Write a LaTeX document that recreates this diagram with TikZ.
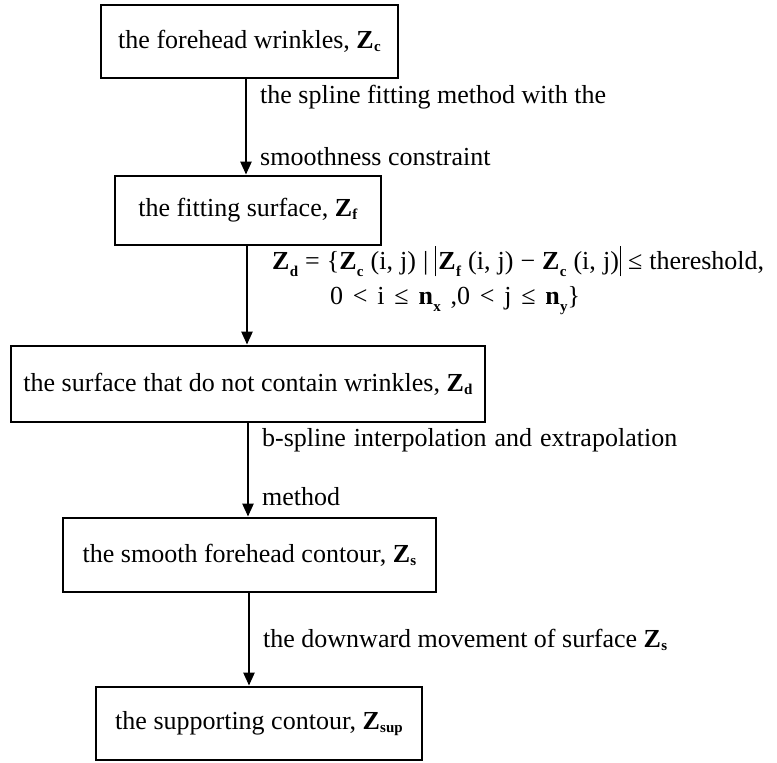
\documentclass[tikz,border=0pt]{standalone}
\usepackage{fontspec}
\setmainfont{Liberation Serif}
\usetikzlibrary{arrows.meta}
\newcommand\Zb[1]{\textbf{Z}\kern0.3pt\raisebox{-0.12em}{\fontsize{15}{15}\selectfont\textbf{#1}}}
\newcommand\Zm[1]{\textbf{Z}\kern0.3pt\raisebox{-0.3em}{\fontsize{15}{15}\selectfont\textbf{#1}}}
\newcommand\nsub[1]{\textbf{n}\kern0.3pt\raisebox{-0.3em}{\fontsize{15}{15}\selectfont\textbf{#1}}}
\newcommand\absbar{\rule[-0.28em]{1.2pt}{1.18em}}
\begin{document}
\begin{tikzpicture}[x=1pt,y=-1pt,
  box/.style={draw, line width=2.8pt, minimum width=#1, minimum height=74pt, inner sep=0pt,
    font=\fontsize{26}{30}\selectfont},
  flow/.style={line width=2.4pt, -{Triangle[length=13pt,width=11pt]}},
  lbl/.style={anchor=base west, inner sep=0pt, font=\fontsize{26}{30}\selectfont}]
\useasboundingbox (0,0) rectangle (777,763);
% boxes
\node[box=297, minimum height=73pt] (b1) at (249.5,41.5) {the forehead wrinkles, \Zb{c}};
\node[box=266, minimum height=69pt] (b2) at (248,210.5) {the fitting surface, \Zb{f}};
\node[box=474, minimum height=76pt] (b3) at (248,384) {the surface that do not contain wrinkles, \Zb{d}};
\node[box=373] (b4) at (249.5,555) {the smooth forehead contour, \Zb{s}};
\node[box=326, minimum height=73pt] (b5) at (259,723.5) {the supporting contour, \Zb{sup}};
% arrow columns
\coordinate (a1) at (246,0);
\coordinate (a2) at (247,0);
\coordinate (a3) at (248,0);
\coordinate (a4) at (249,0);
\draw[flow] (b1.south -| a1) -- (b2.north -| a1);
\draw[flow] (b2.south -| a2) -- (b3.north -| a2);
\draw[flow] (b3.south -| a3) -- (b4.north -| a3);
\draw[flow] (b4.south -| a4) -- (b5.north -| a4);
% labels
\node[lbl] (l1a) at (260,103) {the spline fitting method with the};
\node[lbl] (l1b) at (260,165) {smoothness constraint};
\node[lbl] (m1) at (272,269) {\makebox[492pt][s]{\Zm{d} = \{\Zm{c} (i, j) | \absbar\kern2pt\Zm{f} (i, j) − \Zm{c} (i, j)\kern1pt\absbar\ ≤ thereshold,}};
\node[lbl] (m2) at (330,304) {\makebox[250pt][s]{0 < i ≤ \nsub{x} ,0 < j ≤ \nsub{y}\}}};
\node[lbl] (l3a) at (262,446) {\makebox[415pt][s]{b-spline interpolation and extrapolation}};
\node[lbl] (l3b) at (262,505) {method};
\node[lbl] (l4) at (263,647) {the downward movement of surface \Zb{s}};
\end{tikzpicture}
\end{document}
